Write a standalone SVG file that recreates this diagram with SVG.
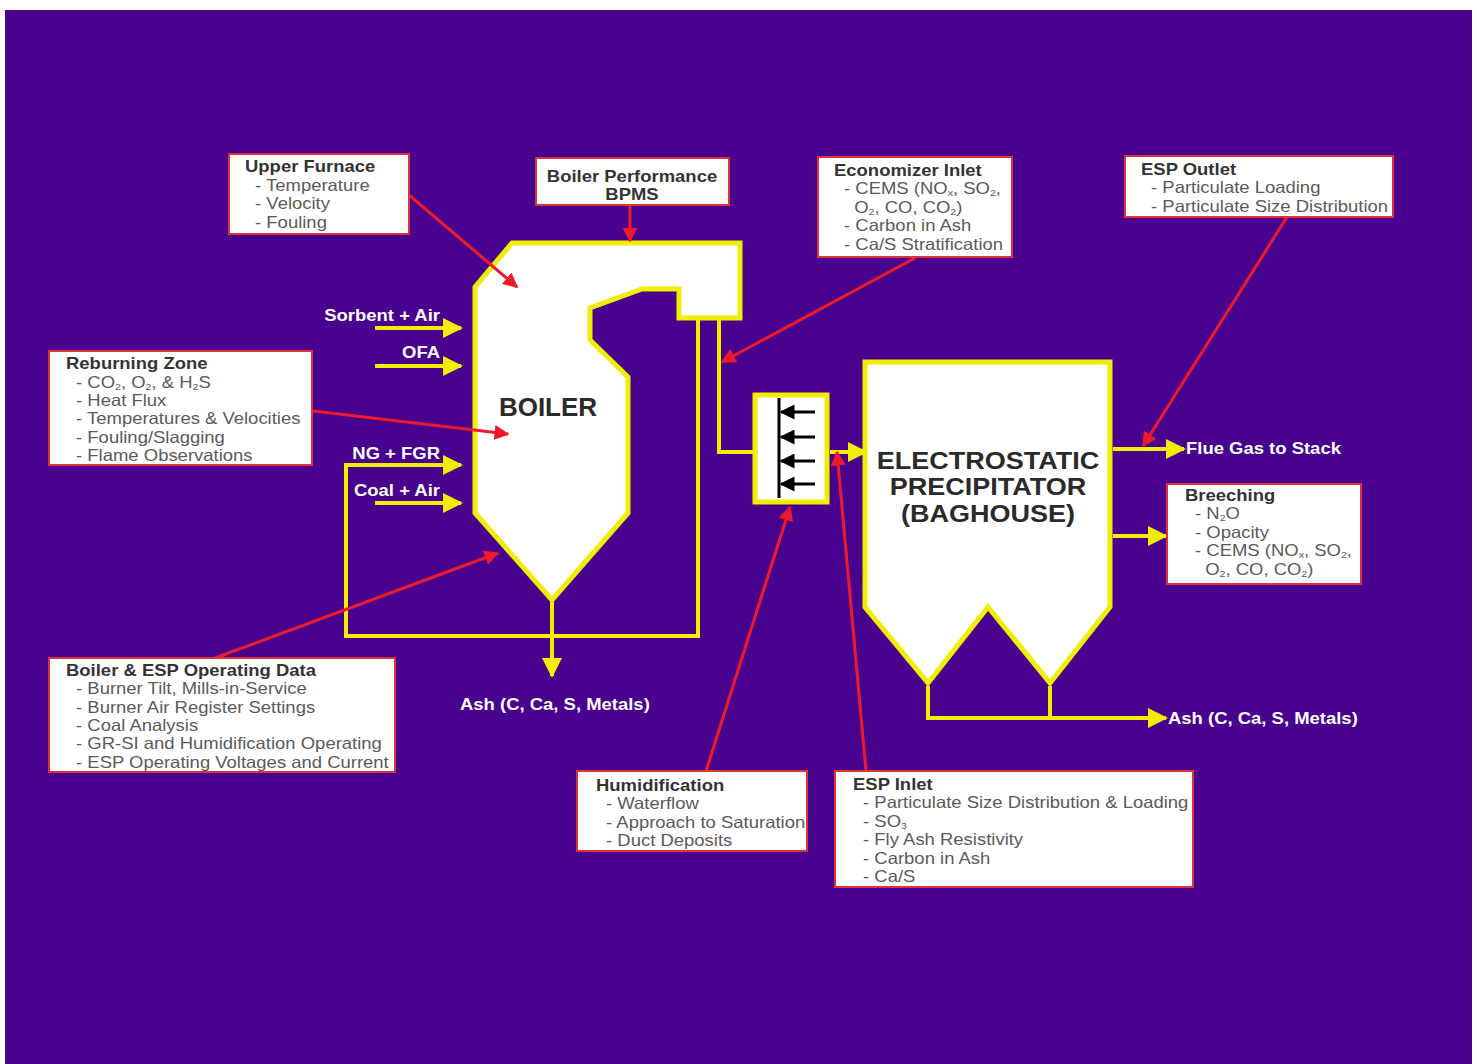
<svg xmlns="http://www.w3.org/2000/svg" width="1477" height="1064" viewBox="0 0 1477 1064">
<defs>
<style>
.bg{fill:#48028e}
.unit{fill:#ffffff;stroke:#f2ee00;stroke-width:5;stroke-linejoin:miter}
.pipe{fill:none;stroke:#f2ee00;stroke-width:4}
.probe{fill:none;stroke:#ec1a2a;stroke-width:3}
.box{fill:#ffffff;stroke:#e0303a;stroke-width:2}
.t{font-family:"Liberation Sans",Arial,sans-serif;font-size:16.5px;fill:#5a5a5a}
.h{font-family:"Liberation Sans",Arial,sans-serif;font-size:16.5px;font-weight:bold;fill:#333333}
.lbl{font-family:"Liberation Sans",Arial,sans-serif;font-size:16.5px;font-weight:bold;fill:#ffffff}
.big{font-family:"Liberation Sans",Arial,sans-serif;font-size:23.5px;font-weight:bold;fill:#2a2a2a}
.s{font-size:9.5px}
</style>
<marker id="ya" viewBox="0 0 10 10" refX="9" refY="5" markerWidth="5" markerHeight="5" orient="auto" markerUnits="strokeWidth"><path d="M0,0 L10,5 L0,10 z" fill="#f2ee00"/></marker>
<marker id="ra" viewBox="0 0 10 10" refX="9" refY="5" markerWidth="5" markerHeight="5" orient="auto" markerUnits="strokeWidth"><path d="M0,0 L10,5 L0,10 z" fill="#ec1a2a"/></marker>
<marker id="ka" viewBox="0 0 10 10" refX="9" refY="5" markerWidth="5" markerHeight="5" orient="auto" markerUnits="strokeWidth"><path d="M0,0 L10,5 L0,10 z" fill="#000000"/></marker>
</defs>
<rect x="0" y="0" width="1477" height="1064" fill="#ffffff"/>
<rect class="bg" x="5" y="10" width="1467" height="1054"/>

<g id="boiler">
<path class="unit" d="M512,243 H740 V318 H679 V289 H642 L590,308 V340 L628,377 V513 L552,600 L475,513 V287 Z"/>
<text class="big" x="548" y="416" text-anchor="middle" style="font-size:26px">BOILER</text>
</g>

<g id="humidifier">
<rect class="unit" x="755" y="395" width="72" height="107"/>
<line x1="779" y1="398" x2="779" y2="498" stroke="#000" stroke-width="3"/>
<line x1="815" y1="412" x2="781" y2="412" stroke="#000" stroke-width="3" marker-end="url(#ka)"/>
<line x1="815" y1="437" x2="781" y2="437" stroke="#000" stroke-width="3" marker-end="url(#ka)"/>
<line x1="815" y1="461" x2="781" y2="461" stroke="#000" stroke-width="3" marker-end="url(#ka)"/>
<line x1="815" y1="484" x2="781" y2="484" stroke="#000" stroke-width="3" marker-end="url(#ka)"/>
</g>

<g id="esp">
<path class="unit" d="M865,362 H1110 V607 L1050,683 L988,607 L928,683 L865,607 Z"/>
<g transform="translate(988,0) scale(1.15,1)">
<text class="big" x="0" y="469" text-anchor="middle">ELECTROSTATIC</text>
<text class="big" x="0" y="495" text-anchor="middle">PRECIPITATOR</text>
<text class="big" x="0" y="522" text-anchor="middle">(BAGHOUSE)</text>
</g>
</g>

<g id="connectors">
<path class="pipe" d="M698,318 V636 H346 V465 H384" />
<line class="pipe" x1="346" y1="465" x2="461" y2="465" marker-end="url(#ya)"/>
<line class="pipe" x1="375" y1="328" x2="461" y2="328" marker-end="url(#ya)"/>
<line class="pipe" x1="375" y1="366" x2="461" y2="366" marker-end="url(#ya)"/>
<line class="pipe" x1="375" y1="503" x2="461" y2="503" marker-end="url(#ya)"/>
<line class="pipe" x1="552" y1="602" x2="552" y2="676" marker-end="url(#ya)"/>
<path class="pipe" d="M719,320 V452 H753"/>
<line class="pipe" x1="830" y1="452" x2="866" y2="452" marker-end="url(#ya)"/>
<line class="pipe" x1="1113" y1="449" x2="1184" y2="449" marker-end="url(#ya)"/>
<line class="pipe" x1="1113" y1="536" x2="1166" y2="536" marker-end="url(#ya)"/>
<path class="pipe" d="M928,686 V718 M1050,686 V718"/>
<line class="pipe" x1="926" y1="718" x2="1166" y2="718" marker-end="url(#ya)"/>
<line class="probe" x1="409" y1="195" x2="517" y2="287" marker-end="url(#ra)"/>
<line class="probe" x1="630" y1="205" x2="630" y2="241" marker-end="url(#ra)"/>
<line class="probe" x1="915" y1="258" x2="722" y2="362" marker-end="url(#ra)"/>
<line class="probe" x1="1287" y1="217" x2="1143" y2="446" marker-end="url(#ra)"/>
<line class="probe" x1="305" y1="410" x2="508" y2="434" marker-end="url(#ra)"/>
<line class="probe" x1="215" y1="658" x2="498" y2="553" marker-end="url(#ra)"/>
<line class="probe" x1="706" y1="771" x2="790" y2="507" marker-end="url(#ra)"/>
<line class="probe" x1="866" y1="771" x2="837" y2="452" marker-end="url(#ra)"/>
</g>

<g id="flow-labels">
<g transform="translate(440,0) scale(1.12,1)">
<text class="lbl" x="0" y="321" text-anchor="end">Sorbent + Air</text>
<text class="lbl" x="0" y="358" text-anchor="end">OFA</text>
<text class="lbl" x="0" y="459" text-anchor="end">NG + FGR</text>
<text class="lbl" x="0" y="496" text-anchor="end">Coal + Air</text>
</g>
<text class="lbl" transform="translate(460,710) scale(1.12,1)">Ash (C, Ca, S, Metals)</text>
<text class="lbl" transform="translate(1186,454) scale(1.12,1)">Flue Gas to Stack</text>
<text class="lbl" transform="translate(1168,724) scale(1.12,1)">Ash (C, Ca, S, Metals)</text>
</g>

<g id="upper-furnace">
<rect class="box" x="229" y="154" width="180" height="80"/>
<g transform="translate(245,0) scale(1.12,1)">
<text class="h" x="0" y="172">Upper Furnace</text>
<text class="t" x="9" y="191">- Temperature</text>
<text class="t" x="9" y="209">- Velocity</text>
<text class="t" x="9" y="228">- Fouling</text>
</g>
</g>

<g id="boiler-performance">
<rect class="box" x="536" y="158" width="193" height="47"/>
<g transform="translate(632,0) scale(1.12,1)">
<text class="h" x="0" y="182" text-anchor="middle">Boiler Performance</text>
<text class="h" x="0" y="200" text-anchor="middle">BPMS</text>
</g>
</g>

<g id="economizer-inlet">
<rect class="box" x="818" y="157" width="194" height="100"/>
<g transform="translate(834,0) scale(1.12,1)">
<text class="h" x="0" y="176">Economizer Inlet</text>
<text class="t" x="9" y="194">- CEMS (NO<tspan class="s" dy="2">x</tspan><tspan dy="-2">, SO</tspan><tspan class="s" dy="2">2</tspan><tspan dy="-2">,</tspan></text>
<text class="t" x="18" y="213">O<tspan class="s" dy="2">2</tspan><tspan dy="-2">, CO, CO</tspan><tspan class="s" dy="2">2</tspan><tspan dy="-2">)</tspan></text>
<text class="t" x="9" y="231">- Carbon in Ash</text>
<text class="t" x="9" y="250">- Ca/S Stratification</text>
</g>
</g>

<g id="esp-outlet">
<rect class="box" x="1125" y="156" width="268" height="61"/>
<g transform="translate(1141,0) scale(1.12,1)">
<text class="h" x="0" y="175">ESP Outlet</text>
<text class="t" x="9" y="193">- Particulate Loading</text>
<text class="t" x="9" y="212">- Particulate Size Distribution</text>
</g>
</g>

<g id="reburning-zone">
<rect class="box" x="49" y="351" width="263" height="114"/>
<g transform="translate(66,0) scale(1.12,1)">
<text class="h" x="0" y="369">Reburning Zone</text>
<text class="t" x="9" y="388">- CO<tspan class="s" dy="2">2</tspan><tspan dy="-2">, O</tspan><tspan class="s" dy="2">2</tspan><tspan dy="-2">, &amp; H</tspan><tspan class="s" dy="2">2</tspan><tspan dy="-2">S</tspan></text>
<text class="t" x="9" y="406">- Heat Flux</text>
<text class="t" x="9" y="424">- Temperatures &amp; Velocities</text>
<text class="t" x="9" y="443">- Fouling/Slagging</text>
<text class="t" x="9" y="461">- Flame Observations</text>
</g>
</g>

<g id="operating-data">
<rect class="box" x="49" y="658" width="346" height="114"/>
<g transform="translate(66,0) scale(1.12,1)">
<text class="h" x="0" y="676">Boiler &amp; ESP Operating Data</text>
<text class="t" x="9" y="694">- Burner Tilt, Mills-in-Service</text>
<text class="t" x="9" y="713">- Burner Air Register Settings</text>
<text class="t" x="9" y="731">- Coal Analysis</text>
<text class="t" x="9" y="749">- GR-SI and Humidification Operating</text>
<text class="t" x="9" y="768">- ESP Operating Voltages and Current</text>
</g>
</g>

<g id="humidification">
<rect class="box" x="577" y="771" width="230" height="80"/>
<g transform="translate(596,0) scale(1.12,1)">
<text class="h" x="0" y="791">Humidification</text>
<text class="t" x="9" y="809">- Waterflow</text>
<text class="t" x="9" y="828">- Approach to Saturation</text>
<text class="t" x="9" y="846">- Duct Deposits</text>
</g>
</g>

<g id="esp-inlet">
<rect class="box" x="835" y="771" width="358" height="116"/>
<g transform="translate(853,0) scale(1.12,1)">
<text class="h" x="0" y="790">ESP Inlet</text>
<text class="t" x="9" y="808">- Particulate Size Distribution &amp; Loading</text>
<text class="t" x="9" y="827">- SO<tspan class="s" dy="2">3</tspan></text>
<text class="t" x="9" y="845">- Fly Ash Resistivity</text>
<text class="t" x="9" y="864">- Carbon in Ash</text>
<text class="t" x="9" y="882">- Ca/S</text>
</g>
</g>

<g id="breeching">
<rect class="box" x="1167" y="484" width="194" height="100"/>
<g transform="translate(1185,0) scale(1.12,1)">
<text class="h" x="0" y="501">Breeching</text>
<text class="t" x="9" y="519">- N<tspan class="s" dy="2">2</tspan><tspan dy="-2">O</tspan></text>
<text class="t" x="9" y="538">- Opacity</text>
<text class="t" x="9" y="556">- CEMS (NO<tspan class="s" dy="2">x</tspan><tspan dy="-2">, SO</tspan><tspan class="s" dy="2">2</tspan><tspan dy="-2">,</tspan></text>
<text class="t" x="18" y="575">O<tspan class="s" dy="2">2</tspan><tspan dy="-2">, CO, CO</tspan><tspan class="s" dy="2">2</tspan><tspan dy="-2">)</tspan></text>
</g>
</g>
</svg>
